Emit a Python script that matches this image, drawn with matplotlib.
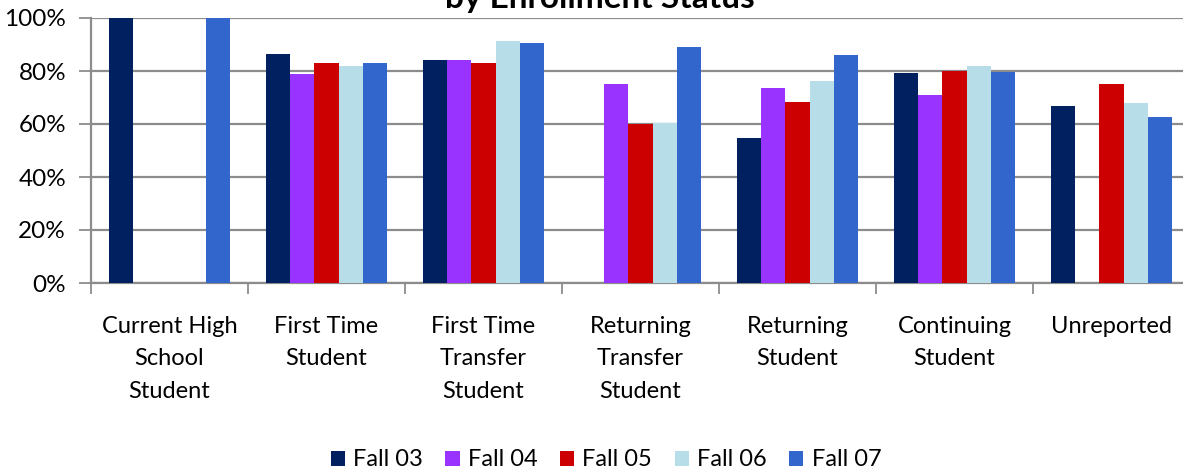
import numpy as np
import matplotlib.pyplot as plt
from matplotlib.patches import Patch

plt.rcParams['font.family'] = ['Lato', 'DejaVu Sans']

# Categories on the x axis and the terms shown in the legend.
categories = ["Current High\nSchool\nStudent", "First Time\nStudent",
              "First Time\nTransfer\nStudent", "Returning\nTransfer\nStudent",
              "Returning\nStudent", "Continuing\nStudent", "Unreported"]
terms = ["Fall 03", "Fall 04", "Fall 05", "Fall 06", "Fall 07"]

# Success rate (%) per category, one list per term; None = no bar.
fall03 = [100, 86.4, 84.2, None, 54.7, 79.2, 66.8]
fall04 = [None, 78.9, 84.2, 75.1, 73.6, 70.9, None]
fall05 = [None, 83.0, 83.0, 60.0, 68.3, 80.1, 75.1]
fall06 = [None, 81.9, 91.3, 60.3, 76.2, 81.9, 67.9]
fall07 = [100, 83.0, 90.6, 89.1, 86.0, 79.6, 62.6]

colors = ["#002060", "#9933FF", "#CC0000", "#B7DEE8", "#3366CC"]
grid_c = "#8c8c8c"

W, H = 1183, 474
fig = plt.figure(figsize=(W / 100, H / 100), dpi=100)
ax = fig.add_axes([91 / W, (H - 283) / H, (1190 - 91) / W, 265 / H])

x = np.arange(len(categories))
bw = 0.155
for j, (vals, c) in enumerate(zip([fall03, fall04, fall05, fall06, fall07], colors)):
    v = np.array([np.nan if a is None else a for a in vals], dtype=float)
    ax.bar(x + (j - 2) * bw, v, width=bw, color=c, zorder=3)

ax.set_xlim(-0.5, len(categories) - 0.5)
ax.set_ylim(0, 100)
ax.set_yticks(np.arange(0, 101, 20))
ax.set_yticklabels([f"{t}%" for t in range(0, 101, 20)], fontsize=17.5)
ax.yaxis.grid(True, color=grid_c, linewidth=1.6, zorder=0)

# category labels in the middle, tick marks at group boundaries
ax.set_xticks(x)
ax.set_xticklabels(categories, fontsize=17, linespacing=1.68, va='top')
ax.tick_params(axis='x', which='major', length=0, pad=23.5)
ax.set_xticks(np.arange(-0.5, len(categories) + 0.5, 1), minor=True)
ax.tick_params(axis='x', which='minor', length=8, width=1.3, color=grid_c, direction='out')
ax.tick_params(axis='y', length=9, width=1.3, color=grid_c, direction='out', pad=9)

for s in ['top', 'right']:
    ax.spines[s].set_visible(False)
for s in ['left', 'bottom']:
    ax.spines[s].set_color(grid_c)
    ax.spines[s].set_linewidth(1.6)

fig.text(600 / W, (H - 8) / H, "by Enrollment Status", ha='center', va='baseline',
         fontsize=24, fontweight='bold')

handles = [Patch(facecolor=c, label=t) for c, t in zip(colors, terms)]
fig.legend(handles=handles, loc='center', bbox_to_anchor=(606 / W, (H - 460) / H),
           ncol=5, frameon=False, fontsize=17, handlelength=0.6, handleheight=0.6,
           handletextpad=0.35, columnspacing=0.95)

fig.savefig("out.png", dpi=100)
